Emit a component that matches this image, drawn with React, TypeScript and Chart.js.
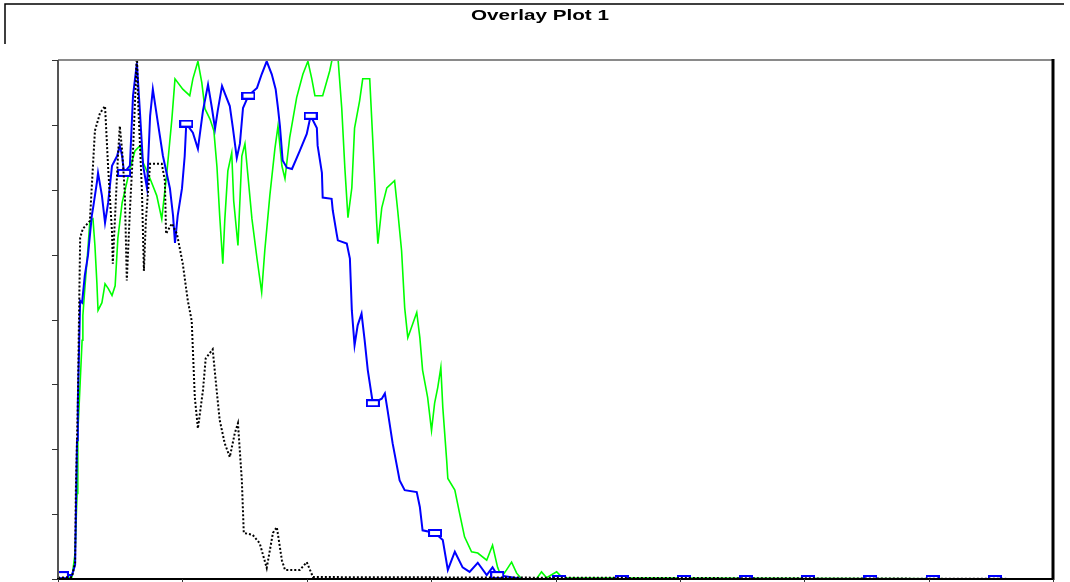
import React, { useEffect, useRef } from "react";
import { Chart, registerables } from "chart.js";

Chart.register(...registerables);

const TITLE = "Overlay Plot 1";

const blackX = [0, 3.6, 4.4, 4.6, 5.1, 5.4, 5.7, 6.4, 8.2, 9.5, 10.8, 12.1, 12.9, 13.9, 14.1, 15.4, 15.9, 16.5, 17.2, 17.7, 18.5, 19.3, 20.3, 20.6, 21.6, 22.1, 22.6, 23.7, 26.7, 27.5, 27.8, 29.3, 30.6, 32.1, 33.4, 34.4, 35.2, 36.0, 37.3, 38.0, 39.8, 40.9, 41.6, 42.9, 44.2, 45.5, 46.3, 47.3, 47.8, 50.1, 51.9, 53.7, 55.3, 56.3, 57.6, 58.4, 62.2, 64.0, 65.6, 256];
const blackY = [0.02, 0.03, 0.25, 1.4, 2.71, 4.02, 5.26, 5.4, 5.52, 6.91, 7.18, 7.29, 6.34, 5.34, 4.86, 6.49, 6.98, 6.6, 5.94, 4.6, 5.68, 6.6, 8.1, 7.37, 5.98, 4.75, 5.52, 6.4, 6.4, 6.14, 5.32, 5.48, 5.32, 4.86, 4.29, 3.98, 2.8, 2.32, 2.91, 3.4, 3.54, 2.86, 2.45, 2.09, 1.88, 2.25, 2.4, 1.52, 0.71, 0.68, 0.55, 0.17, 0.71, 0.8, 0.29, 0.14, 0.14, 0.26, 0.03, 0];

const blueX = [0, 1, 3.6, 4.4, 4.9, 5.1, 5.7, 6.2, 6.9, 7.7, 8.7, 9.0, 10.0, 10.3, 11.3, 12.1, 12.9, 13.9, 15.2, 15.9, 16.5, 17, 18.5, 19.3, 20.3, 21.1, 21.9, 22.9, 23.7, 24.4, 25.7, 27.0, 28.8, 29.6, 30.1, 30.8, 31.9, 32.6, 33, 34.7, 36.0, 37.3, 38.6, 39.6, 40.4, 41.1, 42.2, 42.9, 44.2, 45.0, 46.0, 46.8, 47.6, 49, 51.2, 52.4, 53.7, 55.0, 56.0, 56.6, 57.1, 57.8, 58.9, 60.2, 62.2, 64.0, 65, 66.6, 66.8, 67.9, 68.1, 70.4, 70.7, 71.7, 72.0, 74.3, 75.1, 75.6, 76.3, 77.1, 78.1, 78.9, 79.7, 81, 83.3, 84.1, 84.8, 86.1, 87.9, 89.2, 92.3, 93.1, 93.8, 97, 99.0, 100.3, 102.1, 104.1, 105.9, 108.0, 110.3, 111.8, 113, 116.2, 119.5, 129, 145, 161, 177, 193, 209, 225, 241, 256];
const blueY = [0.11, 0.06, 0.06, 0.22, 2.14, 2.71, 4.29, 4.26, 4.68, 4.98, 5.6, 5.71, 6.11, 6.26, 5.91, 5.49, 5.8, 6.37, 6.52, 6.68, 6.52, 6.26, 6.37, 7.45, 7.95, 7.18, 6.37, 6.02, 7.14, 7.55, 7.03, 6.52, 6.02, 5.6, 5.18, 5.6, 6.02, 6.52, 7.02, 6.88, 6.63, 7.22, 7.62, 7.26, 6.94, 7.22, 7.6, 7.49, 7.29, 6.95, 6.49, 6.71, 7.26, 7.45, 7.57, 7.78, 7.98, 7.78, 7.55, 7.26, 6.98, 6.45, 6.34, 6.32, 6.6, 6.86, 7.14, 6.95, 6.68, 6.26, 5.88, 5.86, 5.68, 5.32, 5.22, 5.17, 4.94, 4.14, 3.6, 3.91, 4.09, 3.68, 3.22, 2.71, 2.78, 2.86, 2.6, 2.09, 1.52, 1.37, 1.34, 1.11, 0.75, 0.71, 0.6, 0.14, 0.42, 0.18, 0.11, 0.25, 0.06, 0.18, 0.06, 0.03, 0, 0, 0, 0, 0, 0, 0, 0, 0];
const markerChannels = [1, 17, 33, 49, 65, 81, 97, 113, 129, 145, 161, 177, 193, 209, 225, 241];

const greenX = [0, 3.6, 4.4, 4.9, 5.1, 5.7, 6.2, 6.4, 6.9, 7.7, 8.2, 9.0, 9.5, 10.0, 10.3, 11.3, 12.1, 12.9, 13.9, 14.7, 15.4, 16.5, 17.7, 18.5, 19.8, 21.1, 21.9, 23.7, 25.4, 26.7, 28.0, 29.3, 30.1, 32.1, 33.9, 34.7, 36.0, 37.0, 37.8, 39.1, 40.1, 40.9, 41.6, 42.4, 42.9, 43.7, 44.7, 45.2, 46.3, 47.3, 48.1, 48.8, 49.9, 51.2, 52.4, 53.2, 54.5, 55.8, 56.6, 57.6, 58.4, 59.6, 61.4, 63.0, 64.3, 65.3, 66.1, 68.1, 69.9, 70.7, 72.0, 73.0, 73.8, 74.6, 75.6, 76.3, 77.6, 78.4, 80.2, 81.0, 82.0, 82.3, 83.3, 84.6, 86.6, 87.4, 88.4, 89.2, 90.0, 91.3, 92.3, 93.1, 93.8, 95.1, 96.1, 96.9, 97.7, 98.5, 99.0, 100.0, 100.3, 102.1, 103.3, 104.6, 106.4, 108.0, 110.3, 111.8, 113.1, 114.1, 115.4, 116.7, 118.0, 119.3, 123.1, 124.4, 125.7, 128.3, 129.8, 256];
const greenY = [0.02, 0.03, 0.4, 1.32, 2.25, 3.02, 3.68, 4.06, 4.48, 5.09, 5.52, 5.55, 5.14, 4.57, 4.14, 4.26, 4.55, 4.48, 4.37, 4.52, 5.25, 5.8, 6.11, 6.32, 6.6, 6.68, 6.42, 6.17, 5.91, 5.55, 6.26, 7.09, 7.71, 7.55, 7.45, 7.71, 7.98, 7.65, 7.25, 7.09, 6.91, 6.35, 5.6, 4.86, 5.52, 6.29, 6.57, 5.83, 5.14, 6.52, 6.71, 6.26, 5.55, 4.94, 4.42, 5.06, 5.91, 6.63, 6.98, 6.37, 6.17, 6.8, 7.42, 7.78, 7.98, 7.71, 7.45, 7.45, 7.83, 8.06, 8.06, 7.26, 6.34, 5.57, 6.03, 6.95, 7.37, 7.71, 7.71, 6.75, 5.48, 5.17, 5.72, 6.03, 6.14, 5.68, 5.06, 4.18, 3.72, 3.94, 4.11, 3.72, 3.22, 2.8, 2.29, 2.71, 2.95, 3.26, 2.65, 1.83, 1.55, 1.37, 1.02, 0.65, 0.42, 0.4, 0.29, 0.52, 0.18, 0.03, 0.14, 0.26, 0.09, 0, 0, 0.11, 0.02, 0.11, 0.02, 0];

const xTicks = [0, 32, 64, 96, 128, 160, 192, 224, 256];
const yTicks = [0, 1, 2, 3, 4, 5, 6, 7, 8];

const toPoints = (xs: number[], ys: number[]) => xs.map((x, i) => ({ x, y: ys[i] }));

function makeMarker() {
  const c = document.createElement("canvas");
  c.width = 14;
  c.height = 8;
  const g = c.getContext("2d")!;
  g.fillStyle = "#ffffff";
  g.fillRect(0, 0, 14, 8);
  g.strokeStyle = "#0000ff";
  g.lineWidth = 2;
  g.strokeRect(1, 1, 12, 6);
  return c;
}

const framePlugin = {
  id: "frame",
  afterDraw(chart: any) {
    const { ctx, chartArea } = chart;
    const xs = chart.scales.x;
    const ys = chart.scales.y;
    ctx.save();
    // outer frame fragment
    ctx.strokeStyle = "#000";
    ctx.lineWidth = 1.5;
    ctx.beginPath();
    ctx.moveTo(5, 44);
    ctx.lineTo(5, 4);
    ctx.lineTo(1064, 4);
    ctx.stroke();
    // title (slightly wide bold face, as in the reference)
    ctx.fillStyle = "#000";
    ctx.font = "bold 15px 'Liberation Sans', Arial, sans-serif";
    ctx.textAlign = "center";
    ctx.textBaseline = "alphabetic";
    const w = ctx.measureText(TITLE).width;
    const sx = 138 / w;
    ctx.save();
    ctx.translate(540, 20);
    ctx.scale(sx, 1);
    ctx.fillText(TITLE, 0, 0);
    ctx.restore();
    // plot border
    const { left, right, top, bottom } = chartArea;
    ctx.lineWidth = 2;
    ctx.strokeStyle = "#8a8a8a";
    ctx.beginPath();
    ctx.moveTo(left, top);
    ctx.lineTo(right, top);
    ctx.stroke();
    ctx.strokeStyle = "#555";
    ctx.beginPath();
    ctx.moveTo(left, top);
    ctx.lineTo(left, bottom);
    ctx.stroke();
    ctx.strokeStyle = "#000";
    ctx.beginPath();
    ctx.moveTo(left - 1, bottom);
    ctx.lineTo(right, bottom);
    ctx.stroke();
    ctx.lineWidth = 3;
    ctx.beginPath();
    ctx.moveTo(right, top - 1);
    ctx.lineTo(right, bottom + 1);
    ctx.stroke();
    // ticks
    ctx.lineWidth = 1;
    ctx.strokeStyle = "#333";
    ctx.beginPath();
    for (const v of yTicks) {
      const py = Math.round(ys.getPixelForValue(v)) + 0.5;
      ctx.moveTo(left - 6, py);
      ctx.lineTo(left, py);
    }
    for (const v of xTicks) {
      const px = Math.round(xs.getPixelForValue(v)) + 0.5;
      ctx.moveTo(px, bottom);
      ctx.lineTo(px, bottom + 4);
    }
    ctx.stroke();
    ctx.restore();
  },
};

export default function App() {
  const ref = useRef<HTMLCanvasElement>(null);
  useEffect(() => {
    const marker = makeMarker();
    const markerSet = new Set(markerChannels);
    const chart = new Chart(ref.current!, {
      type: "line",
      data: {
        datasets: [
          {
            label: "black",
            data: toPoints(blackX, blackY),
            borderColor: "#000000",
            borderWidth: 2,
            borderDash: [2, 2],
            pointRadius: 0,
            tension: 0,
          },
          {
            label: "blue",
            data: toPoints(blueX, blueY),
            borderColor: "#0000ff",
            borderWidth: 2,
            pointStyle: marker as any,
            pointRadius: (c: any) => (c.raw && markerSet.has(c.raw.x) ? 4 : 0),
            pointHoverRadius: 0,
            tension: 0,
          },
          {
            label: "green",
            data: toPoints(greenX, greenY),
            borderColor: "#00ff00",
            borderWidth: 1.6,
            pointRadius: 0,
            tension: 0,
          },
        ],
      },
      options: {
        animation: false,
        responsive: false,
        devicePixelRatio: 1,
        parsing: false as any,
        layout: { padding: { left: 58, top: 60, right: 17, bottom: 3 } },
        plugins: { legend: { display: false }, title: { display: false }, tooltip: { enabled: false } },
        events: [],
        scales: {
          x: { type: "linear", min: 0, max: 256, display: false },
          y: { type: "linear", min: 0, max: 8, display: false },
        },
      },
      plugins: [framePlugin],
    });
    return () => chart.destroy();
  }, []);
  return (
    <div style={{ position: "fixed", left: 0, top: 0, width: 1070, height: 582, background: "#fff" }}>
      <canvas ref={ref} width={1070} height={582} style={{ display: "block" }} />
    </div>
  );
}
